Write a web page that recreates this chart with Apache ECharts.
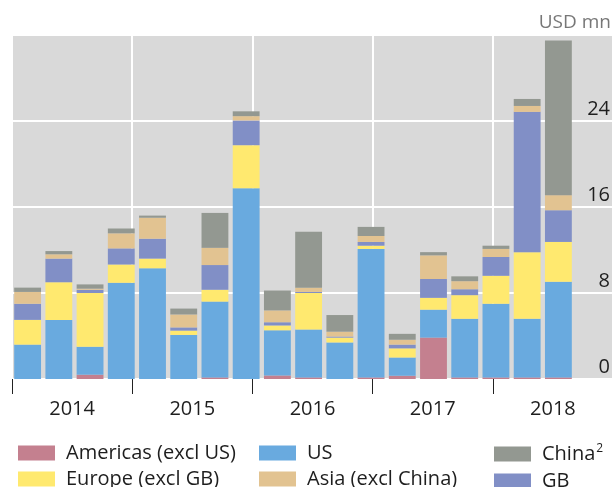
<!DOCTYPE html>
<html>
<head>
<meta charset="utf-8">
<script src="https://cdn.jsdelivr.net/npm/echarts@6/dist/echarts.min.js"></script>
<style>
  html, body { margin: 0; padding: 0; background: #fff; }
  #chart { width: 613px; height: 487px; }
</style>
</head>
<body>
<div id="chart"></div>
<script>
// 季度类目
const quarters = ['2014Q1', '2014Q2', '2014Q3', '2014Q4', '2015Q1', '2015Q2', '2015Q3', '2015Q4',
  '2016Q1', '2016Q2', '2016Q3', '2016Q4', '2017Q1', '2017Q2', '2017Q3', '2017Q4', '2018Q1', '2018Q2']
// 年份标签
const years = ['2014', '2015', '2016', '2017', '2018']
// y轴刻度
const yMax = 32
const yStep = 8

// 各地区数值 (USD mn)
const americas = [0, 0, 0.4, 0, 0, 0, 0.15, 0, 0.33, 0.15, 0, 0.15, 0.3, 3.85, 0.15, 0.15, 0.15, 0.15]
const us = [3.2, 5.5, 2.6, 8.95, 10.3, 4.1, 7.05, 17.75, 4.2, 4.45, 3.4, 11.95, 1.7, 2.6, 5.45, 6.85, 5.45, 8.9]
const europe = [2.3, 3.5, 5.0, 1.7, 0.9, 0.4, 1.1, 4.0, 0.45, 3.4, 0.45, 0.3, 0.85, 1.1, 2.2, 2.6, 6.2, 3.7]
const gb = [1.5, 2.2, 0.3, 1.5, 1.85, 0.3, 2.3, 2.3, 0.3, 0.1, 0.1, 0.35, 0.35, 1.75, 0.55, 1.75, 13.05, 2.95]
const asia = [1.1, 0.4, 0.1, 1.4, 1.95, 1.2, 1.6, 0.4, 1.1, 0.4, 0.45, 0.55, 0.45, 2.2, 0.75, 0.75, 0.55, 1.4]
const china = [0.4, 0.3, 0.4, 0.45, 0.2, 0.55, 3.25, 0.45, 1.85, 5.2, 1.55, 0.85, 0.55, 0.3, 0.45, 0.3, 0.65, 14.4]

const font = "'Open Sans', 'Noto Sans', sans-serif"
const textColor = '#1e1e1e'

// 网格位置: 每季度宽度一致, 年份网格延伸到画布外
const gridLeft = 12
const gridTop = 35
const gridBottom = 108
const quarterW = (613 - gridLeft - 38) / quarters.length
const yearRight = 613 - gridLeft - quarterW * 4 * years.length

function bar(name, data, color) {
  return {
    name: name,
    type: 'bar',
    stack: 'total',
    xAxisIndex: 0,
    yAxisIndex: 0,
    barCategoryGap: '14%',
    itemStyle: { color: color },
    data: data,
  }
}

// 图例: 三列, 每列两项
const legendBase = {
  orient: 'vertical',
  top: 443,
  width: 230,
  height: 80,
  padding: 0,
  itemWidth: 37,
  itemHeight: 15,
  itemGap: 6,
  icon: 'rect',
  selectedMode: false,
  formatter: function (name) {
    return name === 'China' ? '{main|China}{sup|2}' : name
  },
  textStyle: {
    fontFamily: font,
    fontSize: 20,
    lineHeight: 15,
    color: textColor,
    padding: [0, 0, 0, 6],
    rich: {
      main: { fontFamily: font, fontSize: 20, lineHeight: 22, color: textColor },
      sup: { fontFamily: font, fontSize: 12, lineHeight: 10, verticalAlign: 'top', color: textColor, padding: [0, 0, 0, 1] },
    },
  },
}

const option = {
  animation: false,
  textStyle: { fontFamily: font },
  grid: [
    { left: gridLeft, right: 38, top: gridTop, bottom: gridBottom, show: false },
    { left: gridLeft, right: yearRight, top: gridTop, bottom: gridBottom, show: true, backgroundColor: '#d9d9d9', borderWidth: 0 },
  ],
  xAxis: [
    {
      type: 'category',
      gridIndex: 0,
      data: quarters,
      axisLine: { show: false },
      axisTick: { show: false },
      axisLabel: { show: false },
    },
    {
      type: 'category',
      gridIndex: 1,
      data: years,
      axisLine: { show: false },
      axisTick: { show: true, interval: 0, length: 15, lineStyle: { color: '#222', width: 1 } },
      axisLabel: { interval: 0, fontSize: 20, lineHeight: 20, color: textColor, margin: 20, fontFamily: font },
      splitLine: { show: true, interval: 0, lineStyle: { color: '#fff', width: 2 } },
    },
  ],
  yAxis: [
    {
      type: 'value',
      gridIndex: 0,
      position: 'right',
      min: 0,
      max: yMax,
      interval: yStep,
      axisLine: { show: false },
      axisTick: { show: false },
      splitLine: { show: false },
      axisLabel: {
        showMaxLabel: false,
        align: 'right',
        verticalAlign: 'bottom',
        margin: 36,
        fontSize: 20,
        lineHeight: 20,
        padding: [0, 0, 2, 0],
        color: textColor,
        fontFamily: font,
      },
    },
    {
      type: 'value',
      gridIndex: 1,
      min: 0,
      max: yMax,
      interval: yStep,
      axisLine: { show: false },
      axisTick: { show: false },
      axisLabel: { show: false },
      splitLine: { show: true, lineStyle: { color: '#fff', width: 2 } },
    },
  ],
  legend: [
    Object.assign({}, legendBase, { left: 18, data: ['Americas (excl US)', 'Europe (excl GB)'] }),
    Object.assign({}, legendBase, { left: 259, data: ['US', 'Asia (excl China)'] }),
    Object.assign({}, legendBase, { left: 494, width: 119, data: ['China', 'GB'] }),
  ],
  graphic: [
    {
      type: 'text',
      right: 2,
      top: 13,
      style: { text: 'USD mn', fontFamily: font, fontSize: 19, fill: '#777' },
    },
  ],
  series: [
    bar('Americas (excl US)', americas, '#c4808f'),
    bar('US', us, '#69aadf'),
    bar('Europe (excl GB)', europe, '#ffe96f'),
    bar('GB', gb, '#818fc6'),
    bar('Asia (excl China)', asia, '#e2c391'),
    bar('China', china, '#939891'),
  ],
}

const chart = echarts.init(document.getElementById('chart'))
chart.setOption(option)
</script>
</body>
</html>
